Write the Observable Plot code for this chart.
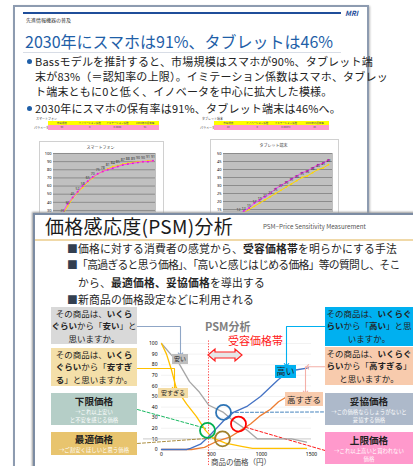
<!DOCTYPE html>
<html><head><meta charset="utf-8">
<script src="https://cdn.jsdelivr.net/npm/d3@7"></script>
<script src="https://cdn.jsdelivr.net/npm/@observablehq/plot@0.6"></script>
<style>
body{margin:0;background:#fff;font-family:"Noto Sans CJK JP","Noto Sans",sans-serif;}
#root{position:relative;width:413px;height:466px;overflow:hidden;background:#fff;}
.a{position:absolute;white-space:nowrap;}
.box{position:absolute;box-sizing:border-box;text-align:center;color:#222;}
.box b{font-weight:700;}
.hd{font-weight:700;font-size:9.6px;line-height:14px;color:#222;}
.sub{font-size:5.4px;line-height:8px;color:#fff;}
.lbl{position:absolute;box-sizing:border-box;text-align:center;color:#222;}
svg.plot{overflow:visible;}
</style></head><body><div id="root"></div>
<script>
// ---------- data: back slide (Bass model) ----------
const smartYears = [2012,2013,2014,2015,2016,2017,2018,2019,2020,2021,2022,2023,2024,2025,2026,2027,2028,2029,2030];
const smartFit   = [27,38,46,53,60,66,71,75,78,80,82,84,86,87,88,89,90,90,91];
const smartObs   = [25,35,45,52,58,65,70,75,78,81,84,85,87,88,89,90,90,91,91];
const tabYears = [2013,2014,2015,2016,2017,2018,2019,2020,2021,2022,2023,2024,2025,2026,2027,2028,2029,2030];
const tabFit   = [12,14,16,19,21,23,25,28,30,32,34,36,38,39,41,43,44,46];
const tabObs   = [12,13,15,17,19,21,23,25,27,29,31,33,35,36,38,40,41,43];
const smartTicks = [30,40,50,60,70,80,90,100];
const tabTicks = [15,20,25,30,35,40,45,50];
const paramHead = ["市場規模","イノベーション係数","イミテーション係数","2030年の保有率"];
const smartParam = ["90","0","0.0008","91"];
const tabParam = ["83","0","0.00072","46"];

// ---------- data: PSM ----------
const cheapPrice = [0,100,170,280,380,470,620,720,860,960,1300,1450];
const cheapPct   = [100,89,82,64,54,42,35,27,18,10,10,7];
const tooCheapPrice = [0,50,100,150,250,350,440,510,640,800,910,1450];
const tooCheapPct   = [100,90,75,57,43,31,18,11,6,3,1,1];
const expPrice = [0,250,290,390,470,560,640,720,860,990,1090,1170,1250,1340,1470];
const expPct   = [0,0,1,5,12,21,29,35,41,50,59,66,72,75,77];
const tooExpPrice = [0,300,430,560,690,790,890,990,1090,1170,1240];
const tooExpPct   = [0,0,2,8,12,18,24,32,38,45,49];
const psmYTicks = [0,10,20,30,40,50,60,70,80,90,100];
const psmXTicks = [0,500,1000,1500];
const pointNames = ["下限価格","最適価格","妥協価格","上限価格"];
const pointPrice = [460,610,620,770];
const pointPct   = [18,10,35,24];
const rangeLow = 470;

const pts = (xs, ys) => xs.map((x,i)=>({x, y: ys[i]}));
const root = document.getElementById("root");
function el(html){ const t=document.createElement("div"); t.innerHTML=html.trim(); const n=t.firstChild; root.appendChild(n); return n; }
function place(node, css){ const w=document.createElement("div"); w.style.cssText="position:absolute;"+css; w.appendChild(node); root.appendChild(w); return w; }

// ---------- back slide ----------
el(`<div class="a" style="left:13px;top:5px;width:352px;height:480px;border:2px solid #8d9bb0;background:#fff;box-shadow:1px 1px 2px #bbb"></div>`);
el(`<div class="a" style="left:23px;top:12px;width:318px;height:2px;background:#1f4e9a"></div>`);
el(`<div class="a" style="left:345px;top:8px;font-size:7px;font-weight:700;font-style:italic;color:#1f4e9a">MRI</div>`);
el(`<div class="a" style="left:26px;top:16px;font-size:5px;color:#333">先進情報機器の普及</div>`);
el(`<div class="a" style="left:25px;top:31px;font-size:16px;line-height:20px;color:#1f5fa8">2030年にスマホは91%、タブレットは46%</div>`);
el(`<div class="a" style="left:23px;top:52px;width:318px;height:1px;background:#d8dde6"></div>`);
el(`<div class="a" style="left:27px;top:59px;width:5px;height:5px;border-radius:50%;background:#1f5fa8"></div>`);
el(`<div class="a" style="left:35px;top:54px;font-size:11px;line-height:15px;color:#222;letter-spacing:0.2px">Bassモデルを推計すると、市場規模はスマホが90%、タブレット端<br>末が83%（＝認知率の上限）。イミテーション係数はスマホ、タブレッ<br>ト端末ともに0と低く、イノベータを中心に拡大した模様。</div>`);
el(`<div class="a" style="left:27px;top:106px;width:5px;height:5px;border-radius:50%;background:#1f5fa8"></div>`);
el(`<div class="a" style="left:35px;top:101px;font-size:11px;line-height:15px;color:#222;letter-spacing:0.2px">2030年にスマホの保有率は91%、タブレット端末は46%へ。</div>`);

function paramTable(left, top, width, name, vals){
  const hd = paramHead.map(h=>`<div style="flex:1;text-align:center">${h}</div>`).join("");
  const vs = vals.map(v=>`<div style="flex:1;text-align:center">${v}</div>`).join("");
  el(`<div class="a" style="left:${left-12}px;top:${top-4}px;font-size:3px;color:#444">${name}</div>`);
  el(`<div class="a" style="left:${left-14}px;top:${top+5}px;font-size:3px;color:#444">パラメータ</div>`);
  el(`<div class="a" style="left:${left}px;top:${top}px;width:${width}px;height:4px;background:#ffff00;display:flex;font-size:2.5px;line-height:4px;color:#555">${hd}</div>`);
  el(`<div class="a" style="left:${left}px;top:${top+4}px;width:${width}px;height:5px;background:#ff99cc;display:flex;font-size:2.5px;line-height:5px;color:#555">${vs}</div>`);
}
paramTable(48,121,111,"スマートフォン",smartParam);
paramTable(214,121,115,"タブレット端末",tabParam);

function bassChart(left, top, width, title, years, fit, obs, ticks, ymax, mL, mR, mT, plotH, xdom){
  const clipH = 212 - top;
  el(`<div class="a" style="left:${left}px;top:${top}px;width:${width}px;height:${clipH+20}px;border:1px solid #d0d0d0;background:#fff"></div>`);
  el(`<div class="a" style="left:${left}px;top:${top+3}px;width:${width}px;text-align:center;font-size:4px;color:#333">${title}</div>`);
  const f = pts(years, fit), o = pts(years, obs);
  const p = Plot.plot({
    width: width, height: mT+plotH+10, marginLeft: mL, marginRight: mR, marginTop: mT, marginBottom: 10,
    style: {background: "transparent", overflow: "visible", fontSize: "4px"},
    x: {domain: xdom, axis: null},
    y: {domain: [0, ymax], ticks: ticks, tickSize: 0, tickPadding: 2, label: null, tickFormat: d=>String(d)},
    marks: [
      Plot.frame({fill: "#c0c0c0", stroke: "#c0c0c0"}),
      Plot.ruleY(ticks, {stroke: "#7f7f7f", strokeWidth: 0.8}),
      Plot.line(o, {x: "x", y: "y", stroke: "#ffd700", strokeWidth: 1}),
      Plot.dot(o, {x: "x", y: "y", r: 0.9, fill: "#ffd700"}),
      Plot.line(f, {x: "x", y: "y", stroke: "#ff33ff", strokeWidth: 0.9}),
      Plot.dot(f, {x: "x", y: "y", r: 1, fill: "#e020e0"}),
      Plot.text(o, {x: "x", y: "y", text: "y", dy: -4, fontSize: 3.5, fill: "#333"})
    ]
  });
  place(p, `left:${left}px;top:${top}px;width:${width}px;height:${clipH}px;overflow:hidden;`);
}
bassChart(39,141,123,"スマートフォン",smartYears,smartFit,smartObs,smartTicks,100,14,7,12,81.4,[2010.2,2030.5]);
bassChart(210,139,127,"タブレット端末",tabYears,tabFit,tabObs,tabTicks,50,13,5,14,80,[2010.16,2030.76]);

// ---------- front slide ----------
el(`<div class="a" style="left:33px;top:213px;width:400px;height:270px;border:2px solid #7c8ca3;background:#fff;box-shadow:-1px -1px 2px #999"></div>`);
el(`<div class="a" style="left:45px;top:212px;font-size:19px;line-height:27px;color:#1a1a1a;letter-spacing:0.3px">価格感応度(PSM)分析</div>`);
el(`<div class="a" style="left:263px;top:222px;font-size:6.2px;line-height:9px;color:#555">PSM−Price Sensitivity Measurement</div>`);
el(`<div class="a" style="left:35px;top:239px;width:380px;height:1.5px;background:#f0d9a8"></div>`);
const bullet = (top, html, ls) => el(`<div class="a" style="left:67px;top:${top}px;font-size:10.8px;line-height:16px;color:#262626;letter-spacing:${ls}px"><span style="color:#333f50">■</span>${html}</div>`);
bullet(240,"価格に対する消費者の感覚から、<b>受容価格帯</b>を明らかにする手法",0.2);
bullet(256,"「高過ぎると思う価格」、「高いと感じはじめる価格」等の質問し、そこ",-0.7);
el(`<div class="a" style="left:78px;top:274px;font-size:10.8px;line-height:16px;color:#262626;letter-spacing:0.2px">から、<b>最適価格、妥協価格</b>を導出する</div>`);
bullet(291,"新商品の価格設定などに利用される",0.2);

// PSM chart
const ann = {
  cheapArrow:   pts([-240,190,190],[116,116,90]),
  tooCheapArrow:pts([-240,130,130],[76.4,76.4,57.5]),
  highArrow:    pts([1640,1250,1250],[116,116,80]),
  tooHighArrow: pts([1640,1460],[78,78]),
  tooHighDown:  pts([1440,1440],[78,54]),
  lowerDash:    pts([-240,440],[37.7,20]),
  optDash:      pts([-240,540],[5.7,11]),
  compDash:     pts([690,1790],[35,35.5]),
  upperDash:    pts([840,1840],[21,-6.6])
};
const circles = pointNames.map((n,i)=>({name:n, x:pointPrice[i], y:pointPct[i]}));
const circleColors = {"下限価格":"#00b050","最適価格":"#a0802a","妥協価格":"#2e75b6","上限価格":"#ff0000"};
const psm = Plot.plot({
  width: 190, height: 136, marginLeft: 21, marginRight: 19, marginTop: 13, marginBottom: 17,
  style: {background: "transparent", overflow: "visible", fontSize: "5px"},
  x: {domain: [0,1500], ticks: psmXTicks, tickSize: 0, tickPadding: 3, label: null, tickFormat: d=>String(d)},
  y: {domain: [0,100], ticks: psmYTicks, tickSize: 0, tickPadding: 4, label: null, tickFormat: d=>String(d)},
  marks: [
    Plot.ruleY(psmYTicks.filter(d=>d!==10), {stroke: "#ececec", strokeWidth: 0.7}),
    Plot.ruleY([10], {x1: -180, x2: 1500, stroke: "#bdbdbd", strokeWidth: 0.8}),
    Plot.ruleX([rangeLow], {y1: -15, y2: 103, stroke: "#ff3030", strokeWidth: 0.9, strokeDasharray: "1.2,1.6"}),
    Plot.line(ann.lowerDash, {x:"x", y:"y", stroke:"#00b050", strokeWidth:0.9, strokeDasharray:"3,2"}),
    Plot.line(ann.optDash, {x:"x", y:"y", stroke:"#a0802a", strokeWidth:0.9, strokeDasharray:"3,2"}),
    Plot.line(ann.compDash, {x:"x", y:"y", stroke:"#2e75b6", strokeWidth:0.9, strokeDasharray:"3,2"}),
    Plot.line(ann.upperDash, {x:"x", y:"y", stroke:"#ff0000", strokeWidth:0.9, strokeDasharray:"3,2"}),
    Plot.line(pts(cheapPrice,cheapPct), {x:"x", y:"y", stroke:"#a6a6a6", strokeWidth:1.3}),
    Plot.line(pts(tooCheapPrice,tooCheapPct), {x:"x", y:"y", stroke:"#ffc000", strokeWidth:1.3}),
    Plot.line(pts(tooExpPrice,tooExpPct), {x:"x", y:"y", stroke:"#ed7d31", strokeWidth:1.3}),
    Plot.line(pts(expPrice,expPct), {x:"x", y:"y", stroke:"#4472c4", strokeWidth:1.3}),
    Plot.line(ann.cheapArrow, {x:"x", y:"y", stroke:"#8fa6c6", strokeWidth:1.1, markerEnd:"arrow"}),
    Plot.line(ann.tooCheapArrow, {x:"x", y:"y", stroke:"#ffc000", strokeWidth:1.1, markerEnd:"arrow"}),
    Plot.line(ann.highArrow, {x:"x", y:"y", stroke:"#00b0f0", strokeWidth:1.1, markerEnd:"arrow"}),
    Plot.line(ann.tooHighArrow, {x:"x", y:"y", stroke:"#f4b0a8", strokeWidth:1.1, markerEnd:"arrow"}),
    Plot.line(ann.tooHighDown, {x:"x", y:"y", stroke:"#f4b0a8", strokeWidth:1.1, markerEnd:"arrow"}),
    Plot.dot(circles, {x:"x", y:"y", r:7.5, stroke: d=>circleColors[d.name], strokeWidth:1.8, fill:"none"})
  ]
});
place(psm, "left:140px;top:330px;z-index:3;");

// chart annotations
el(`<div class="a" style="left:205px;top:319px;font-size:11px;line-height:14px;font-weight:700;color:#7f7f7f;z-index:4">PSM分析</div>`);
el(`<div class="a" style="left:228px;top:334px;font-size:11px;line-height:13px;color:#ff2020;z-index:4">受容価格帯</div>`);
el(`<svg class="a" style="left:206px;top:347px;z-index:4" width="38" height="16"><polygon points="2,8 9,2 9,5 29,5 29,2 36,8 29,14 29,11 9,11 9,14" fill="#e6e6e6" stroke="#ff2020" stroke-width="1.2"/></svg>`);
el(`<div class="lbl" style="left:172px;top:354px;width:16px;height:10px;background:#bfbfbf;font-size:6px;line-height:10px;z-index:5">安い</div>`);
el(`<div class="lbl" style="left:158px;top:388px;width:30px;height:10px;background:#f3dca5;font-size:6px;line-height:10px;z-index:5">安すぎる</div>`);
el(`<div class="lbl" style="left:275px;top:365px;width:21px;height:13px;background:#00b0f0;font-size:9px;line-height:13px;z-index:5">高い</div>`);
el(`<div class="lbl" style="left:285px;top:392px;width:38px;height:14px;background:#f8cbad;font-size:8.5px;line-height:14px;z-index:5">高すぎる</div>`);
el(`<div class="a" style="left:211px;top:457px;font-size:7.5px;line-height:9px;color:#444;z-index:4">商品の価格（円）</div>`);

// side boxes
const box = (l,t,w,h,bg,html) => el(`<div class="box" style="left:${l}px;top:${t}px;width:${w}px;height:${h}px;background:${bg};z-index:6">${html}</div>`);
const q = (a) => `<div style="font-size:8.5px;line-height:12.4px">${a}</div>`;
box(51,307,86,37,"#d9d9d9",q("その商品は、<b>いくら</b><br><b>ぐらい</b>から「<b>安い</b>」と<br>思いますか。"));
box(51,348,86,38,"#f4dfa9",q("その商品は、<b>いくら</b><br><b>ぐらい</b>から「<b>安すぎ</b><br><b>る</b>」と思いますか。"));
box(51,393,86,32,"#b5cec7",`<div class="hd" style="padding-top:1px">下限価格</div><div class="sub">→これ以上安い<br>と不安を感じる価格</div>`);
box(51,432,86,23,"#e8c46e",`<div class="hd">最適価格</div><div class="sub">→ご割安くほしいと思う価格</div>`);
box(325,307,88,39,"#00b0f0",q("その商品は、<b>いくらぐ</b><br><b>らい</b>から「<b>高い</b>」と思<br>いますか。"));
box(325,347,88,38,"#f8cbad",q("その商品は、<b>いくらぐ</b><br><b>らい</b>から「<b>高すぎる</b>」<br>と思いますか。"));
box(325,393,88,32,"#adb9ca",`<div class="hd" style="padding-top:1px">妥協価格</div><div class="sub">→この価格ならしょうがないと<br>妥協する価格</div>`);
box(325,432,88,32,"#ff99cc",`<div class="hd" style="padding-top:1px">上限価格</div><div class="sub">→これ以上高いと買われない<br>価格</div>`);
</script></body></html>
